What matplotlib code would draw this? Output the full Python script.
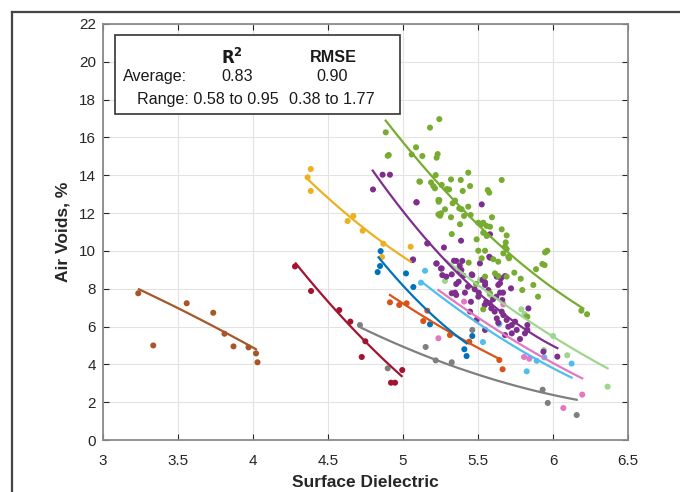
import numpy as np
import matplotlib
matplotlib.use("Agg")
import matplotlib.pyplot as plt
from matplotlib.patches import Rectangle
from matplotlib.lines import Line2D

plt.rcParams['font.family'] = ['Liberation Sans', 'DejaVu Sans']

# ---------------- data ----------------
brown_x = [3.235, 3.335, 3.558, 3.735, 3.81, 3.87, 3.97, 4.02, 4.03]
brown_y = [7.76, 5.0, 7.23, 6.73, 5.62, 4.95, 4.9, 4.58, 4.11]
brown_fx = [3.24, 3.63, 4.02]
brown_fy = [7.97, 6.45, 4.8]

red_x = [4.28, 4.387, 4.575, 4.649, 4.749, 4.725, 4.995, 4.92, 4.947]
red_y = [9.18, 7.88, 6.87, 6.26, 5.22, 4.39, 3.70, 3.03, 3.03]
red_fx = [4.285, 4.64, 4.991]
red_fy = [9.34, 6.1, 3.38]

yellow_x = [4.385, 4.364, 4.385, 4.669, 4.631, 4.731, 4.869, 5.051, 4.86]
yellow_y = [14.33, 13.89, 13.17, 11.85, 11.58, 11.07, 10.38, 10.22, 9.68]
yellow_fx = [4.364, 4.70, 5.051]
yellow_fy = [13.8, 11.45, 9.43]

blue_x = [4.851, 4.847, 4.831, 5.02, 5.069, 5.18, 5.462, 5.409, 5.424]
blue_y = [9.99, 9.2, 8.88, 8.81, 8.09, 6.12, 5.5, 4.8, 4.44]
blue_fx = [4.837, 5.13, 5.424]
blue_fy = [9.66, 7.1, 5.11]

orange_x = [4.913, 4.975, 5.024, 5.162, 5.135, 5.313, 5.442, 5.642, 5.664]
orange_y = [7.28, 7.14, 7.23, 6.84, 6.29, 5.55, 5.2, 4.23, 3.74]
orange_fx = [4.913, 5.28, 5.647]
orange_fy = [7.67, 5.85, 4.27]

grey_x = [4.713, 5.151, 5.218, 4.898, 5.325, 5.462, 5.931, 5.965, 6.158]
grey_y = [6.08, 4.92, 4.21, 3.79, 4.11, 5.82, 2.66, 1.96, 1.32]
grey_fx = [4.713, 5.24, 5.69, 6.158]
grey_fy = [5.99, 4.1, 3.08, 2.10]

purple_x = [4.864, 4.913, 4.80, 5.091, 5.525, 5.162, 5.273, 5.387, 5.58, 5.065,
            5.355, 5.395, 5.224, 5.253, 5.378, 5.389, 5.325, 5.402, 5.458, 5.289,
            5.371, 5.355, 5.535, 5.575, 5.547, 5.569, 5.635, 5.653, 5.647, 5.325,
            5.347, 5.413, 5.502, 5.222, 5.34, 5.258, 5.262, 5.38, 5.513, 5.58,
            5.462, 5.531, 5.547, 5.625, 5.647, 5.68, 5.72, 5.355, 5.433, 5.478,
            5.505, 5.555, 5.578, 5.6, 5.622, 5.545, 5.589, 5.611, 5.662, 5.667,
            5.447, 5.453, 5.491, 5.547, 5.625, 5.635, 5.669, 5.691, 5.702, 5.725,
            5.747, 5.758, 5.68, 5.725, 5.78, 5.813, 5.829, 5.829, 5.836, 6.029,
            5.936, 5.658, 5.067, 5.164, 5.089]
purple_y = [14.03, 14.03, 13.25, 12.57, 12.46, 10.4, 10.18, 10.54, 10.88, 9.52,
            9.47, 9.47, 9.34, 9.07, 9.22, 8.99, 8.76, 8.69, 8.76, 8.64,
            8.37, 8.25, 8.5, 9.69, 8.2, 7.93, 8.2, 8.55, 7.79, 7.76,
            7.79, 7.79, 7.58, 9.33, 9.48, 9.07, 8.72, 8.95, 9.34, 9.64,
            8.72, 8.46, 8.34, 8.64, 8.29, 8.67, 8.02, 7.67, 8.11, 7.97,
            7.79, 7.31, 7.23, 7.44, 7.58, 7.14, 6.96, 6.79, 7.4, 7.79,
            6.79, 7.31, 6.35, 5.82, 6.43, 6.2, 6.61, 6.35, 5.99, 6.08,
            6.26, 5.82, 5.55, 5.64, 5.34, 5.64, 5.82, 6.08, 6.96, 4.41,
            4.67, 6.79, 9.55, 10.4, 12.57]
purple_fx = [4.798, 5.162, 5.691, 6.029]
purple_fy = [14.31, 10.4, 6.7, 4.79]

green_x = [4.885, 5.242, 5.18, 4.905, 5.087, 5.058, 5.129, 5.231, 5.224, 5.218,
           5.435, 5.109, 5.187, 5.202, 5.213, 5.258, 5.291, 5.307, 5.32, 5.385,
           5.398, 5.447, 5.658, 5.565, 5.575, 5.242, 5.238, 5.347, 5.331, 5.28,
           5.253, 5.247, 5.32, 5.375, 5.391, 5.435, 5.407, 5.451, 5.38, 5.525,
           5.502, 5.535, 5.558, 5.58, 5.325, 5.535, 5.558, 5.491, 5.658, 5.685,
           5.68, 5.691, 5.502, 5.547, 5.438, 5.525, 5.602, 5.635, 5.669, 5.702,
           5.613, 5.547, 5.635, 5.691, 5.742, 5.785, 5.795, 5.487, 5.58, 5.593,
           5.691, 5.707, 5.947, 5.962, 5.929, 5.887, 5.869, 5.9, 6.189, 6.227,
           5.824, 5.953, 5.944, 5.535, 5.829, 5.113, 4.898, 5.236, 5.236]
green_y = [16.27, 16.97, 16.52, 15.07, 15.48, 15.1, 15.02, 15.12, 14.93, 14.01,
           14.14, 13.67, 13.62, 13.43, 13.31, 13.49, 13.27, 13.25, 13.78, 13.75,
           13.17, 13.43, 13.75, 13.22, 13.08, 12.69, 12.6, 12.66, 12.52, 12.2,
           11.99, 11.86, 11.78, 12.25, 12.2, 12.34, 11.85, 11.9, 11.41, 11.42,
           11.49, 11.49, 11.32, 11.28, 10.89, 10.96, 10.79, 10.61, 11.14, 10.45,
           10.22, 10.1, 10.01, 10.01, 9.38, 9.61, 9.56, 9.43, 9.87, 9.69,
           8.81, 8.64, 8.67, 8.64, 8.85, 8.53, 7.93, 8.25, 7.76, 11.78,
           10.82, 9.61, 9.92, 10.01, 9.31, 9.03, 8.2, 7.58, 6.84, 6.65,
           6.52, 9.96, 9.25, 6.91, 6.52, 13.66, 15.03, 12.69, 11.93]
green_fx = [4.885, 5.435, 5.869, 6.202]
green_fy = [16.89, 11.9, 8.81, 6.96]

lblue_x = [5.147, 5.12, 5.533, 5.642, 5.825, 5.891, 5.942, 6.124]
lblue_y = [8.95, 8.32, 5.18, 6.13, 3.63, 4.19, 4.37, 4.04]
lblue_fx = [5.124, 5.62, 6.124]
lblue_fy = [8.37, 5.55, 3.3]

pink_x = [5.236, 5.407, 5.669, 5.807, 5.842, 6.195, 6.069]
pink_y = [5.38, 7.32, 7.17, 4.39, 4.3, 2.40, 1.69]
pink_fx = [5.236, 5.691, 6.195]
pink_fy = [7.93, 5.5, 3.26]

lgreen_x = [5.28, 5.58, 5.789, 5.81, 6.0, 5.94, 6.095, 6.364, 5.513]
lgreen_y = [8.41, 7.67, 6.91, 6.66, 5.5, 4.76, 4.48, 2.82, 8.46]
lgreen_fx = [5.28, 5.8, 6.364]
lgreen_fy = [9.55, 6.5, 3.79]

series = [
    (brown_x, brown_y, brown_fx, brown_fy, '#A65628'),
    (red_x, red_y, red_fx, red_fy, '#A2142F'),
    (yellow_x, yellow_y, yellow_fx, yellow_fy, '#EDB120'),
    (grey_x, grey_y, grey_fx, grey_fy, '#7F7F7F'),
    (orange_x, orange_y, orange_fx, orange_fy, '#D95319'),
    (blue_x, blue_y, blue_fx, blue_fy, '#0072BD'),
    (lblue_x, lblue_y, lblue_fx, lblue_fy, '#4DBEEE'),
    (pink_x, pink_y, pink_fx, pink_fy, '#E377C2'),
    (lgreen_x, lgreen_y, lgreen_fx, lgreen_fy, '#9ED68F'),
    (purple_x, purple_y, purple_fx, purple_fy, '#7E2F8E'),
    (green_x, green_y, green_fx, green_fy, '#77AC30'),
]

xticks = [3, 3.5, 4, 4.5, 5, 5.5, 6, 6.5]
xtick_labels = ['3', '3.5', '4', '4.5', '5', '5.5', '6', '6.5']
yticks = [0, 2, 4, 6, 8, 10, 12, 14, 16, 18, 20, 22]

# ---------------- figure ----------------
fig = plt.figure(figsize=(6.8, 4.92), dpi=100)
ax = fig.add_axes([103/680, 1-440/492, 525/680, 416/492])

for xs, ys, fx, fy, c in series:
    ax.scatter(xs, ys, s=19, color=c, edgecolors='none', zorder=3)
    coef = np.polyfit(fx, fy, 2)
    xx = np.linspace(min(fx), max(fx), 100)
    ax.plot(xx, np.polyval(coef, xx), color=c, lw=1.6, zorder=4)

ax.set_xlim(3, 6.5)
ax.set_ylim(0, 22)
ax.set_xticks(xticks)
ax.set_xticklabels(xtick_labels)
ax.set_yticks(yticks)
ax.grid(True, color='#e3e3e3', lw=0.8, zorder=0)
ax.set_axisbelow(True)
ax.tick_params(direction='in', length=4, width=0.8, top=True, right=True,
               labelsize=11, colors='#262626', pad=5)
ax.tick_params(axis='x', pad=10)
for sp in ax.spines.values():
    sp.set_color('#8a8a8a')
    sp.set_linewidth(1.3)

ax.set_xlabel('Surface Dielectric', fontsize=12.5, fontweight='bold', color='#262626', labelpad=5)
ax.set_ylabel('Air Voids, %', fontsize=12.5, fontweight='bold', color='#262626', labelpad=6)

# stats box
ax.add_patch(Rectangle((3.08, 17.24), 1.90, 4.18, facecolor='white',
                       edgecolor='#333333', lw=1.2, zorder=5))
tk = dict(fontsize=11.6, color='#1a1a1a', zorder=6, va='center')
ax.text(3.86, 20.25, r'$\mathbf{R^2}$', ha='center', fontsize=12, color='#1a1a1a', zorder=6, va='center')
ax.text(4.533, 20.25, 'RMSE', ha='center', fontweight='bold', **tk)
ax.text(3.133, 19.2, 'Average:', ha='left', **tk)
ax.text(3.893, 19.2, '0.83', ha='center', **tk)
ax.text(4.527, 19.2, '0.90', ha='center', **tk)
ax.text(3.227, 18.03, 'Range: 0.58 to 0.95', ha='left', **tk)
ax.text(4.527, 18.03, '0.38 to 1.77', ha='center', **tk)

# outer frame fragment
fig.add_artist(Line2D([12/680, 1.0], [1-12/492, 1-12/492], color='#444444', lw=1.6))
fig.add_artist(Line2D([12/680, 12/680], [0, 1-12/492], color='#444444', lw=1.6))

fig.savefig('out.png', dpi=100)
